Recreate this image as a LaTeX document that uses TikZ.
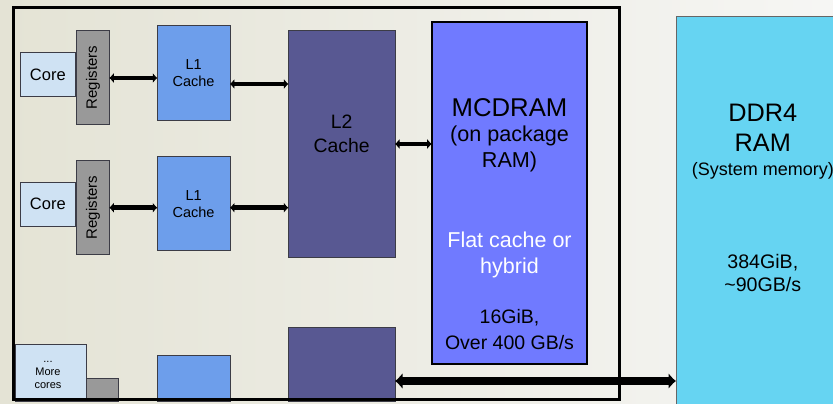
\documentclass[tikz,border=0pt]{standalone}
\usepackage{fontspec}
\setmainfont{Liberation Sans}
\usetikzlibrary{arrows.meta}
\definecolor{bgL}{RGB}{228,227,213}
\definecolor{bgR}{RGB}{246,246,244}
\definecolor{corec}{RGB}{207,226,243}
\definecolor{regc}{RGB}{153,153,153}
\definecolor{lonec}{RGB}{109,158,235}
\definecolor{ltwoc}{RGB}{88,88,146}
\definecolor{mcdc}{RGB}{112,122,255}
\definecolor{ddrc}{RGB}{102,212,242}
\definecolor{edgec}{RGB}{60,60,70}
\begin{document}
\begin{tikzpicture}[x=1pt,y=-1pt,
  blk/.style={rectangle, inner sep=0pt, outer sep=0pt, draw=edgec, line width=0.9pt},
  corebox/.style={blk, fill=corec, font=\fontsize{16.5}{19}\selectfont},
  regbox/.style={blk, fill=regc},
  lonebox/.style={blk, fill=lonec, align=center, font=\fontsize{14.5}{17}\selectfont},
  ltwobox/.style={blk, fill=ltwoc},
  lbl/.style={inner sep=0pt, align=center},
  conn/.style={line width=4.6pt, {Latex[length=4.5pt,width=10.5pt]}-{Latex[length=4.5pt,width=10.5pt]}},
  bigconn/.style={line width=8pt, {Latex[length=7.5pt,width=16.5pt]}-{Latex[length=7.5pt,width=16.5pt]}}]
\useasboundingbox (0,0) rectangle (833,404);
\clip (0,0) rectangle (833,404);
\shade[left color=bgL, right color=bgR] (0,0) rectangle (833,404);

% cores, registers
\node[corebox, minimum width=55.5pt, minimum height=44.5pt] (core1) at (47.8,74.5) {Core};
\node[regbox, minimum width=32.6pt, minimum height=93.6pt] (reg1) at (93,77.5) {};
\node[lbl, rotate=90, font=\fontsize{15}{17}\selectfont] (reg1t) at (93,77.5) {Registers};
\node[lonebox, minimum width=72.7pt, minimum height=94.3pt] (lone1) at (193.6,72.8) {L1\\Cache};

\node[corebox, minimum width=55.5pt, minimum height=44.7pt] (core2) at (47.8,204.3) {Core};
\node[regbox, minimum width=32.6pt, minimum height=93.6pt] (reg2) at (93,207.5) {};
\node[lbl, rotate=90, font=\fontsize{15}{17}\selectfont] (reg2t) at (93,207.5) {Registers};
\node[lonebox, minimum width=72.7pt, minimum height=94pt] (lone2) at (193.6,203.7) {L1\\Cache};

% L2
\node[ltwobox, minimum width=106.7pt, minimum height=226.3pt] (ltwo) at (341.7,143.8) {};
\node[lbl, font=\fontsize{19.4}{24}\selectfont] (ltwot) at (341.7,134) {L2\\Cache};

% bottom partial boxes
\node[corebox, minimum width=71pt, minimum height=57pt] (more) at (50.5,372.5) {};
\node[lbl, font=\fontsize{11}{13}\selectfont] (moret) at (48,374.5) {...\\More\\cores};
\node[regbox, minimum width=32pt, minimum height=23pt] (reg3) at (102,389.8) {};
\node[lonebox, minimum width=72.7pt, minimum height=46pt] (lone3) at (193.6,378.7) {};
\node[ltwobox, minimum width=106.7pt, minimum height=74pt] (ltwo3) at (341.7,364.7) {};

% MCDRAM
\node[rectangle, inner sep=0pt, outer sep=0pt, draw=black, line width=1.8pt, fill=mcdc, minimum width=155.6pt, minimum height=342.3pt] (mcd) at (509.5,192.8) {};
\node[lbl, font=\fontsize{25.7}{30}\selectfont] (mcdt1) at (509.5,108) {MCDRAM};
\node[lbl, font=\fontsize{21.6}{26}\selectfont] (mcdt2) at (509.5,149) {(on package\\RAM)};
\node[lbl, font=\fontsize{21.5}{26}\selectfont, text=white] (mcdt3) at (509.5,255) {Flat cache or\\hybrid};
\node[lbl, font=\fontsize{19.5}{26}\selectfont] (mcdt4) at (509.5,330) {16GiB,\\Over 400 GB/s};

% DDR4
\node[rectangle, inner sep=0pt, outer sep=0pt, draw=gray!80!black, line width=0.9pt, fill=ddrc, minimum width=170pt, minimum height=400pt] (ddr) at (761,216) {};
\node[lbl, font=\fontsize{25.3}{30}\selectfont] (ddrt1) at (762.8,128) {DDR4\\RAM};
\node[lbl, font=\fontsize{18}{20}\selectfont] (ddrt2) at (762.8,171) {(System memory)};
\node[lbl, font=\fontsize{19.6}{22.5}\selectfont] (ddrt3) at (762.8,273) {384GiB,\\\textasciitilde90GB/s};

% chip border
\draw[line width=3pt] (13,8) rectangle (619,399);

% connectors
\draw[conn] (reg1.east |- 0,78) -- (lone1.west |- 0,78);
\draw[conn] (lone1.east |- 0,84) -- (ltwo.west |- 0,84);
\draw[conn] (reg2.east |- 0,207.7) -- (lone2.west |- 0,207.7);
\draw[conn] (lone2.east |- 0,207.7) -- (ltwo.west |- 0,207.7);
\draw[conn] (ltwo.east |- 0,144) -- (mcd.west |- 0,144);
\draw[bigconn] (ltwo3.east |- 0,381) -- (ddr.west |- 0,381);
\end{tikzpicture}
\end{document}
